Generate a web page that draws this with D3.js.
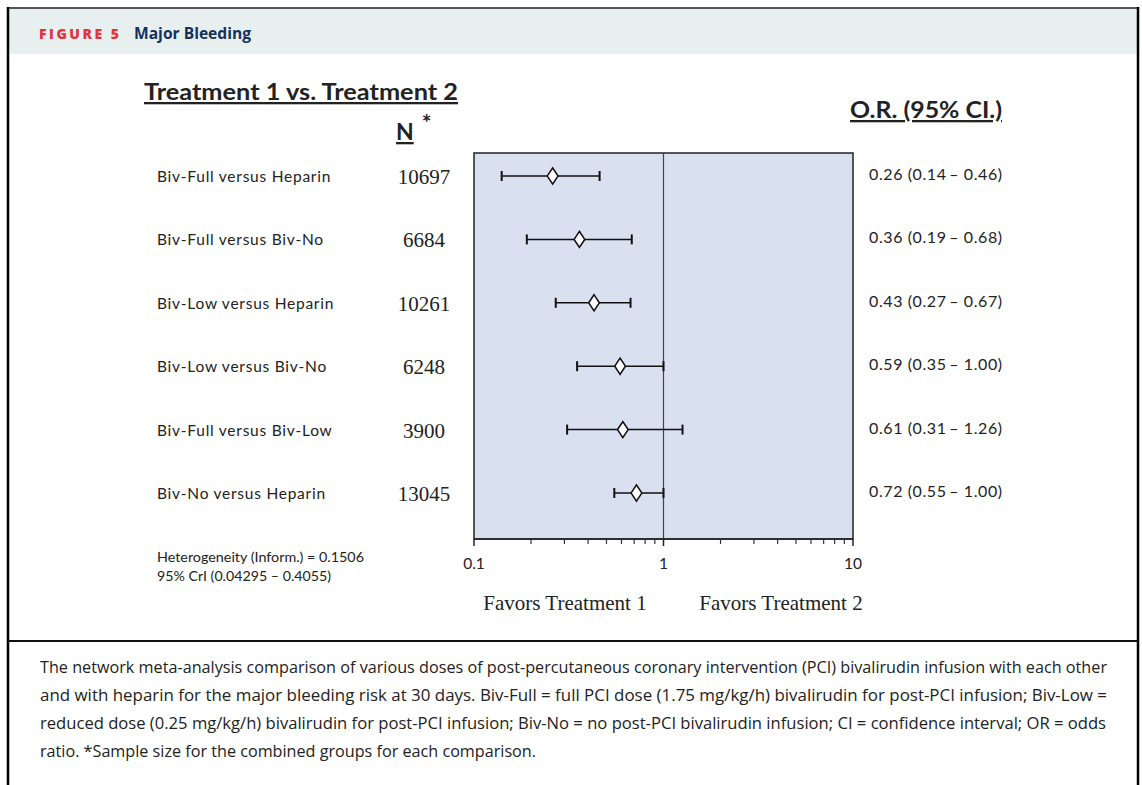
<!DOCTYPE html>
<html>
<head>
<meta charset="utf-8">
<script src="https://cdn.jsdelivr.net/npm/d3@7"></script>
<style>
  html, body { margin: 0; padding: 0; background: #fff; }
  svg { display: block; }
</style>
</head>
<body>
<svg id="fig" width="1142" height="785"></svg>
<script>
// Comparisons, sample sizes and odds ratios with 95% CI
const comparisons = [
  "Biv-Full versus Heparin",
  "Biv-Full versus Biv-No",
  "Biv-Low versus Heparin",
  "Biv-Low versus Biv-No",
  "Biv-Full versus Biv-Low",
  "Biv-No versus Heparin"
];
const sampleSizes = [10697, 6684, 10261, 6248, 3900, 13045];
const oddsRatios = [0.26, 0.36, 0.43, 0.59, 0.61, 0.72];
const ciLower = [0.14, 0.19, 0.27, 0.35, 0.31, 0.55];
const ciUpper = [0.46, 0.68, 0.67, 1.00, 1.26, 1.00];
const axisTicks = [0.1, 1, 10];
const minorTicks = [0.2, 0.3, 0.4, 0.5, 0.6, 0.7, 0.8, 0.9, 2, 3, 4, 5, 6, 7, 8, 9];

const rows = comparisons.map((c, i) => ({
  label: c, n: sampleSizes[i], or: oddsRatios[i], lo: ciLower[i], hi: ciUpper[i]
}));

const svg = d3.select("#fig");
const sans = "Lato, 'Open Sans', sans-serif";
const serif = "'Liberation Serif', 'DejaVu Serif', serif";

// Frame and header band
svg.append("rect").attr("x", 8).attr("y", 8).attr("width", 1130).attr("height", 46)
  .attr("fill", "#e8f0ef");
svg.append("line").attr("x1", 7).attr("x2", 1139).attr("y1", 8).attr("y2", 8)
  .attr("stroke", "#555").attr("stroke-width", 2);
svg.append("line").attr("x1", 8).attr("x2", 8).attr("y1", 7).attr("y2", 785)
  .attr("stroke", "#000").attr("stroke-width", 2.5);
svg.append("line").attr("x1", 1138).attr("x2", 1138).attr("y1", 7).attr("y2", 785)
  .attr("stroke", "#000").attr("stroke-width", 2.5);
svg.append("line").attr("x1", 8).attr("x2", 1138).attr("y1", 641).attr("y2", 641)
  .attr("stroke", "#111").attr("stroke-width", 2);

svg.append("text").attr("x", 39).attr("y", 39)
  .attr("font-family", "'Open Sans', sans-serif").attr("font-weight", 800)
  .attr("fill", "#e2343c").attr("font-size", 14)
  .attr("textLength", 80).attr("lengthAdjust", "spacing")
  .text("FIGURE 5");
svg.append("text").attr("x", 134).attr("y", 39)
  .attr("font-family", "'Open Sans', sans-serif").attr("font-weight", 700)
  .attr("fill", "#13315f").attr("font-size", 15.5)
  .attr("textLength", 117).attr("lengthAdjust", "spacingAndGlyphs")
  .text("Major Bleeding");

// Scales
const x = d3.scaleLog().domain([0.1, 10]).range([474, 853]);
const y = d3.scalePoint().domain(comparisons).range([176, 493]);

const plotTop = 153, plotBottom = 539;

// Shaded plotting area
svg.append("rect").attr("x", x(0.1)).attr("y", plotTop)
  .attr("width", x(10) - x(0.1)).attr("height", plotBottom - plotTop)
  .attr("fill", "#d9e0ef").attr("stroke", "#222").attr("stroke-width", 1.5);

// Line of no effect
svg.append("line").attr("x1", x(1)).attr("x2", x(1))
  .attr("y1", plotTop).attr("y2", plotBottom)
  .attr("stroke", "#444").attr("stroke-width", 1.2);

// Log axis with major and minor ticks
const axisG = svg.append("g").attr("transform", `translate(0,${plotBottom})`);
axisG.append("line").attr("x1", x(0.1)).attr("x2", x(10))
  .attr("stroke", "#222").attr("stroke-width", 1.5);
axisG.selectAll("line.major").data(axisTicks).join("line").attr("class", "major")
  .attr("x1", d => x(d)).attr("x2", d => x(d)).attr("y1", 0).attr("y2", 7)
  .attr("stroke", "#222").attr("stroke-width", 1.5);
axisG.selectAll("line.minor").data(minorTicks).join("line").attr("class", "minor")
  .attr("x1", d => x(d)).attr("x2", d => x(d)).attr("y1", 0).attr("y2", 5)
  .attr("stroke", "#333").attr("stroke-width", 1.2);
axisG.selectAll("text").data(axisTicks).join("text")
  .attr("x", d => x(d)).attr("y", 30).attr("text-anchor", "middle")
  .attr("font-family", sans).attr("font-size", 15.5).attr("fill", "#222")
  .text(d => d3.format("~g")(d));

// Confidence intervals with end caps and diamond markers
const marks = svg.append("g");
rows.forEach(r => {
  const yy = y(r.label);
  marks.append("line").attr("x1", x(r.lo)).attr("x2", x(r.hi)).attr("y1", yy).attr("y2", yy)
    .attr("stroke", "#111").attr("stroke-width", 1.5);
  [r.lo, r.hi].forEach(v => marks.append("line")
    .attr("x1", x(v)).attr("x2", x(v)).attr("y1", yy - 5).attr("y2", yy + 5)
    .attr("stroke", "#111").attr("stroke-width", 2));
  marks.append("path")
    .attr("d", d3.symbol().type(d3.symbolDiamond).size(75)())
    .attr("transform", `translate(${x(r.or)},${yy}) scale(1.15,1)`)
    .attr("fill", "#fff").attr("stroke", "#111").attr("stroke-width", 1.4);
});

// Row labels, sample sizes and OR text
const fmt2 = d3.format(".2f");
svg.selectAll("text.cmp").data(rows).join("text").attr("class", "cmp")
  .attr("x", 157).attr("y", d => y(d.label) + 6)
  .attr("font-family", sans).attr("font-size", 15.5).attr("letter-spacing", 0.75)
  .attr("fill", "#222")
  .text(d => d.label);
svg.selectAll("text.n").data(rows).join("text").attr("class", "n")
  .attr("x", 424).attr("y", d => y(d.label) + 8).attr("text-anchor", "middle")
  .attr("font-family", serif).attr("font-size", 21).attr("fill", "#222")
  .text(d => d.n);
svg.selectAll("text.or").data(rows).join("text").attr("class", "or")
  .attr("x", 869).attr("y", d => y(d.label) + 4)
  .attr("font-family", sans).attr("font-size", 16).attr("letter-spacing", 0.6)
  .attr("fill", "#222")
  .text(d => `${fmt2(d.or)} (${fmt2(d.lo)}\u2009\u2013 ${fmt2(d.hi)})`);

// Column headings
svg.append("text").attr("x", 144).attr("y", 100)
  .attr("font-family", sans).attr("font-weight", 700).attr("font-size", 23)
  .attr("fill", "#222").attr("text-decoration", "underline")
  .attr("textLength", 314).attr("lengthAdjust", "spacingAndGlyphs")
  .text("Treatment 1 vs. Treatment 2");
const nHead = svg.append("text").attr("x", 396).attr("y", 140)
  .attr("font-family", sans).attr("font-weight", 700).attr("font-size", 23).attr("fill", "#222");
nHead.append("tspan").text("N").attr("text-decoration", "underline");
nHead.append("tspan").text("*").attr("dx", 8).attr("dy", -9);
svg.append("text").attr("x", 850).attr("y", 118)
  .attr("font-family", sans).attr("font-weight", 700).attr("font-size", 23)
  .attr("fill", "#222").attr("text-decoration", "underline")
  .attr("textLength", 152).attr("lengthAdjust", "spacingAndGlyphs")
  .text("O.R. (95% CI.)");

// Heterogeneity note
svg.append("text").attr("x", 157).attr("y", 562)
  .attr("font-family", sans).attr("font-size", 13.5).attr("fill", "#222")
  .attr("textLength", 207).attr("lengthAdjust", "spacingAndGlyphs")
  .text("Heterogeneity (Inform.) = 0.1506");
svg.append("text").attr("x", 157).attr("y", 581)
  .attr("font-family", sans).attr("font-size", 13.5).attr("fill", "#222")
  .attr("textLength", 174).attr("lengthAdjust", "spacingAndGlyphs")
  .text("95% CrI (0.04295 \u2013 0.4055)");

// Direction labels
svg.append("text").attr("x", 565).attr("y", 610).attr("text-anchor", "middle")
  .attr("font-family", serif).attr("font-size", 21).attr("fill", "#222")
  .text("Favors Treatment 1");
svg.append("text").attr("x", 781).attr("y", 610).attr("text-anchor", "middle")
  .attr("font-family", serif).attr("font-size", 21).attr("fill", "#222")
  .text("Favors Treatment 2");

// Caption
const caption = [
  ["The network meta-analysis comparison of various doses of post-percutaneous coronary intervention (PCI) bivalirudin infusion with each other", 1067],
  ["and with heparin for the major bleeding risk at 30 days. Biv-Full = full PCI dose (1.75 mg/kg/h) bivalirudin for post-PCI infusion; Biv-Low =", 1067],
  ["reduced dose (0.25 mg/kg/h) bivalirudin for post-PCI infusion; Biv-No = no post-PCI bivalirudin infusion; CI = confidence interval; OR = odds", 1066],
  ["ratio. *Sample size for the combined groups for each comparison.", 496]
];
svg.selectAll("text.cap").data(caption).join("text").attr("class", "cap")
  .attr("x", 40).attr("y", (d, i) => 673 + i * 28)
  .attr("font-family", "'Open Sans', sans-serif").attr("font-size", 15.5).attr("fill", "#222")
  .attr("textLength", d => d[1]).attr("lengthAdjust", "spacingAndGlyphs")
  .text(d => d[0]);
</script>
</body>
</html>
